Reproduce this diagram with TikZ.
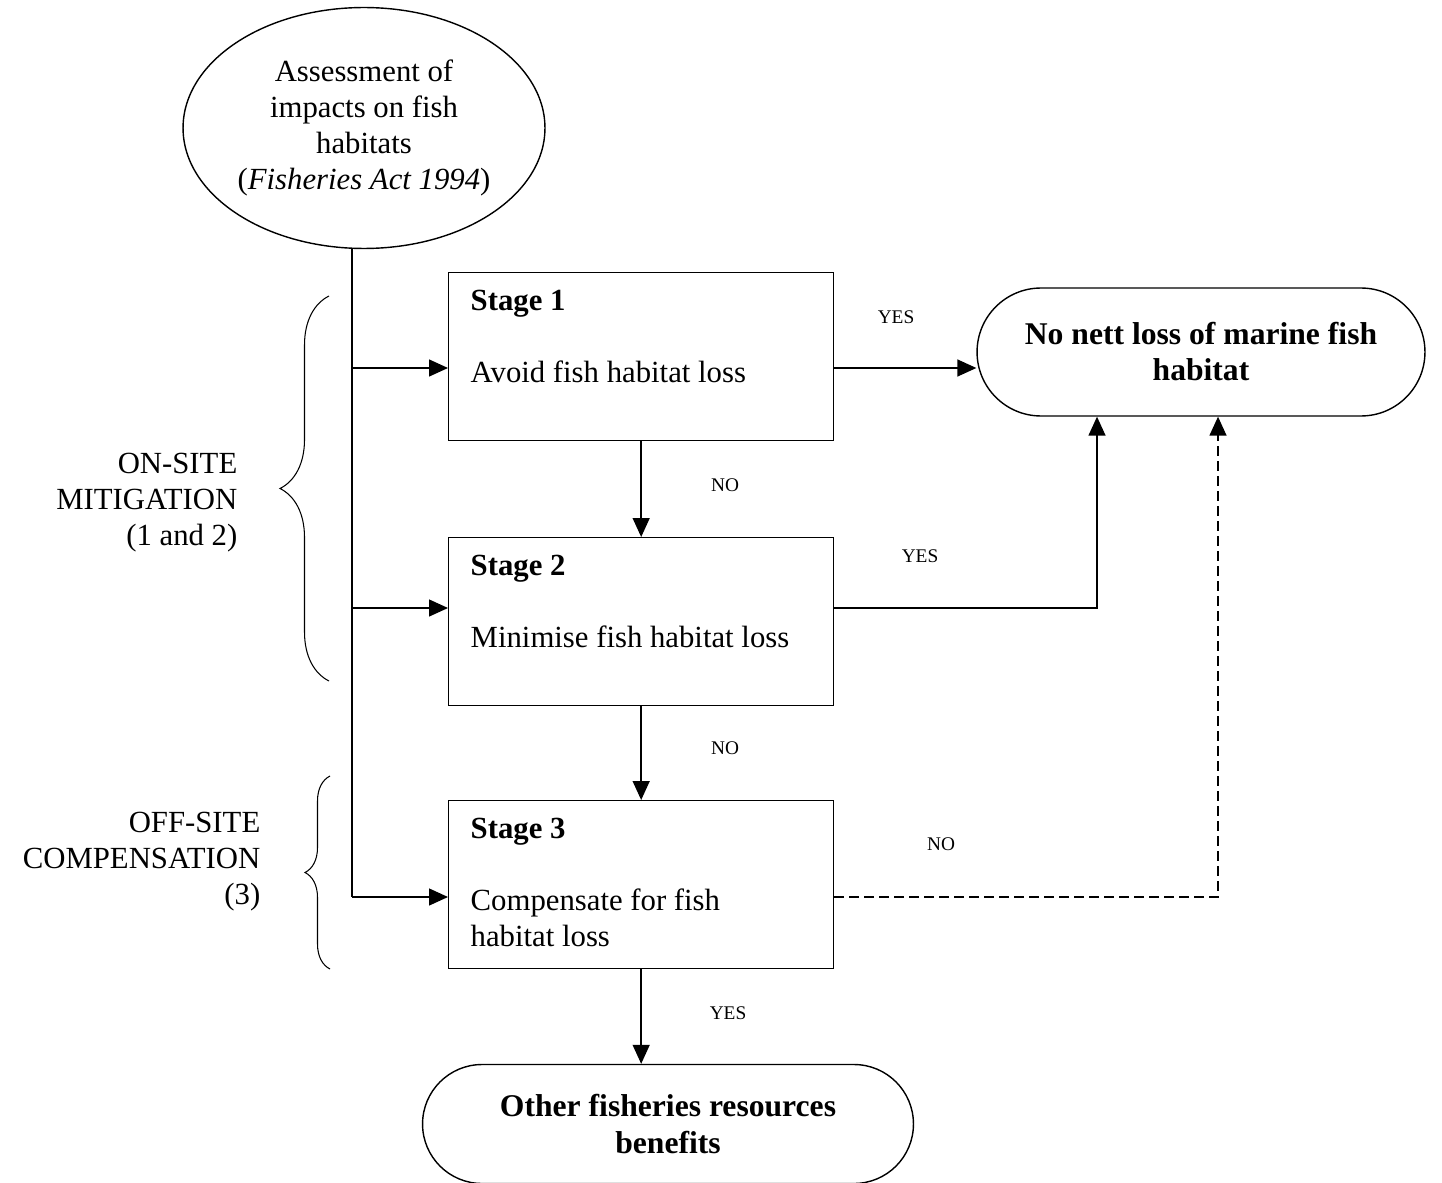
\documentclass[tikz,border=0pt]{standalone}
\usepackage{fontspec}
\setmainfont{Liberation Serif}
\usetikzlibrary{arrows.meta,shapes.geometric,decorations.pathreplacing,calc}

\newcommand{\stagetext}[2]{\parbox[c][3.36cm][t]{6.82cm}{\raggedright\rule{0pt}{0.76cm}\textbf{#1}\par\vspace{0.72cm}#2}}

\begin{document}
\begin{tikzpicture}[x=0.02cm, y=-0.02cm, line width=0.8pt,
  every node/.style={font=\fontsize{17.5}{20.5}\selectfont},
  arr/.style={-{Triangle[length=0.38cm,width=0.34cm]}},
  stagebox/.style={draw, rectangle, anchor=north west, inner xsep=0.44cm, inner ysep=0pt, minimum width=7.7cm, minimum height=3.36cm},
  termbox/.style={draw, rectangle, align=center, inner sep=0pt, font=\fontsize{18}{20.5}\selectfont\bfseries},
  answer/.style={font=\fontsize{11}{13}\selectfont},
  sidelabel/.style={align=right, anchor=east, inner xsep=0pt},
  curly/.style={line width=0.6pt, decorate, decoration={brace, amplitude=#1}}]
\useasboundingbox (0,0) rectangle (1442,1182);
% Assessment
\node[ellipse, draw, minimum width=7.24cm, minimum height=4.82cm, inner sep=0pt, align=center] (assess) at (364,128) {Assessment of\\impacts on fish\\habitats\\(\textit{Fisheries Act 1994})};
% Stages
\node[stagebox] (s1) at (448,272) {\stagetext{Stage 1}{Avoid fish habitat loss}};
\node[stagebox] (s2) at (448,537) {\stagetext{Stage 2}{Minimise fish habitat loss}};
\node[stagebox] (s3) at (448,800) {\stagetext{Stage 3}{Compensate for fish\\habitat loss}};
% Outcomes
\node[termbox, minimum width=8.96cm, minimum height=2.56cm, rounded corners=1.28cm] (nett) at (1201,352) {No nett loss of marine fish\\habitat};
\node[termbox, minimum width=9.82cm, minimum height=2.38cm, rounded corners=1.19cm] (other) at (668,1124) {Other fisheries resources\\benefits};
% Junctions
\coordinate (j1) at (352,368);
\coordinate (j2) at (352,608);
\coordinate (j3) at (352,897);
\coordinate (k2) at (1097,0);
\coordinate (k3) at (1218,0);
% Trunk and feeds
\draw (assess.south -| j3) -- (j3);
\draw[arr] (j1) -- (j1 -| s1.west);
\draw[arr] (j2) -- (j2 -| s2.west);
\draw[arr] (j3) -- (j3 -| s3.west);
% Stage to stage
\draw[arr] (s1.south) -- (s2.north);
\draw[arr] (s2.south) -- (s3.north);
\draw[arr] (s3.south) -- (s3.south |- other.north);
% To no nett loss
\draw[arr] (j1 -| s1.east) -- (j1 -| nett.west);
\draw[arr] (j2 -| s2.east) -| (nett.south -| k2);
\draw[arr, dash pattern=on 0.2cm off 0.1cm] (j3 -| s3.east) -| (nett.south -| k3);
% Answers
\node[answer] (yes1) at (896,317) {YES};
\node[answer] (no1) at (725,485) {NO};
\node[answer] (yes2) at (920,556) {YES};
\node[answer] (no2) at (725,748) {NO};
\node[answer] (no3) at (941,844) {NO};
\node[answer] (yes3) at (728,1013) {YES};
% Braces
\draw[curly=0.98cm] (329,681) -- (329,296);
\draw[curly=0.5cm] (330,969) -- (330,776);
\node[sidelabel] (onsite) at (238,503) {ON-SITE\\MITIGATION\\(1 and 2)};
\node[sidelabel] (offsite) at (261,862) {OFF-SITE\\COMPENSATION\\(3)};
\end{tikzpicture}
\end{document}
